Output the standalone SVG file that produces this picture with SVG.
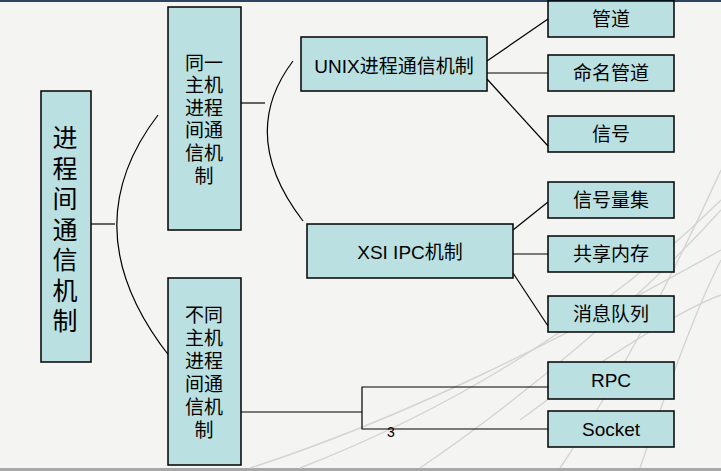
<svg xmlns="http://www.w3.org/2000/svg" width="721" height="471" viewBox="0 0 721 471">
<style>
.box{fill:#bae0e2;stroke:#000;stroke-width:1.5}
.cn{font-family:"Noto Sans CJK SC","Liberation Sans",sans-serif;fill:#000;text-anchor:middle}
.lat{font-family:"Liberation Sans","Noto Sans CJK SC",sans-serif;fill:#000;text-anchor:middle}
.con{fill:none;stroke:#000;stroke-width:1.2}
.deco{fill:none;stroke:#d4d4d4;stroke-width:1.4}
</style>
<rect x="0" y="0" width="721" height="471" fill="#f4f4f3"/>
<rect x="0" y="0" width="721" height="2" fill="#2b4563"/>
<rect x="0" y="468" width="721" height="3" fill="#a8a8a8"/>
<g id="decoration">
<path class="deco" d="M250,468 C400,420 560,340 721,250"/>
<path class="deco" d="M300,468 C450,410 600,320 721,200"/>
<path class="deco" d="M420,468 C520,400 640,300 721,210"/>
<path class="deco" d="M560,468 C620,380 680,260 721,170"/>
<path class="deco" d="M640,468 C670,380 700,300 721,260"/>
<path class="deco" d="M520,420 C600,360 680,310 721,295"/>
</g>
<g id="connectors">
<line class="con" x1="91" y1="224" x2="115" y2="224"/>
<path class="con" d="M158,115 Q70,230 170,357"/>
<line class="con" x1="241" y1="103" x2="265" y2="103"/>
<path class="con" d="M293,61 Q237,135 303,221"/>
<line class="con" x1="487" y1="61" x2="548" y2="19"/>
<line class="con" x1="487" y1="73" x2="548" y2="73"/>
<line class="con" x1="487" y1="79" x2="548" y2="146"/>
<line class="con" x1="513" y1="230" x2="548" y2="202"/>
<line class="con" x1="513" y1="254" x2="548" y2="254"/>
<line class="con" x1="513" y1="273" x2="548" y2="326"/>
<polyline class="con" points="241,412 362,412"/>
<polyline class="con" points="548,387 362,387 362,429 548,429"/>
</g>
<g id="root">
<rect class="box" x="41" y="91" width="50" height="271"/>
<text font-family="Noto Sans CJK SC, sans-serif" font-size="25" fill="#000" writing-mode="vertical-rl" letter-spacing="5.5" x="65" y="125">进程间通信机制</text>
</g>
<g id="same-host">
<rect class="box" x="168" y="7" width="73" height="223"/>
<text class="cn" font-size="19"><tspan x="204" y="70">同一</tspan><tspan x="204" y="92">主机</tspan><tspan x="204" y="115">进程</tspan><tspan x="204" y="137">间通</tspan><tspan x="204" y="160">信机</tspan><tspan x="204" y="183">制</tspan></text>
</g>
<g id="diff-host">
<rect class="box" x="168" y="278" width="73" height="187"/>
<text class="cn" font-size="19"><tspan x="204" y="322">不同</tspan><tspan x="204" y="345">主机</tspan><tspan x="204" y="368">进程</tspan><tspan x="204" y="391">间通</tspan><tspan x="204" y="414">信机</tspan><tspan x="204" y="437">制</tspan></text>
</g>
<g id="unix">
<rect class="box" x="301" y="37" width="186" height="54"/>
<text class="lat" font-size="19" x="394" y="73">UNIX进程通信机制</text>
</g>
<g id="xsi">
<rect class="box" x="307" y="224" width="206" height="54"/>
<text class="lat" font-size="19" x="410" y="259">XSI IPC机制</text>
</g>
<g id="pipe"><rect class="box" x="548" y="1" width="126" height="36"/><text class="cn" font-size="19" x="611" y="26">管道</text></g>
<g id="fifo"><rect class="box" x="548" y="55" width="126" height="36"/><text class="cn" font-size="19" x="611" y="80">命名管道</text></g>
<g id="signal"><rect class="box" x="548" y="116" width="126" height="36"/><text class="cn" font-size="19" x="611" y="141">信号</text></g>
<g id="sem"><rect class="box" x="548" y="182" width="126" height="36"/><text class="cn" font-size="19" x="611" y="207">信号量集</text></g>
<g id="shm"><rect class="box" x="548" y="236" width="126" height="36"/><text class="cn" font-size="19" x="611" y="261">共享内存</text></g>
<g id="msg"><rect class="box" x="548" y="296" width="126" height="36"/><text class="cn" font-size="19" x="611" y="321">消息队列</text></g>
<g id="rpc"><rect class="box" x="548" y="362" width="126" height="37"/><text class="lat" font-size="19" x="611" y="387">RPC</text></g>
<g id="socket"><rect class="box" x="548" y="411" width="126" height="36"/><text class="lat" font-size="19" x="611" y="436">Socket</text></g>
<text class="lat" font-size="14" x="391" y="437">3</text>
</svg>
